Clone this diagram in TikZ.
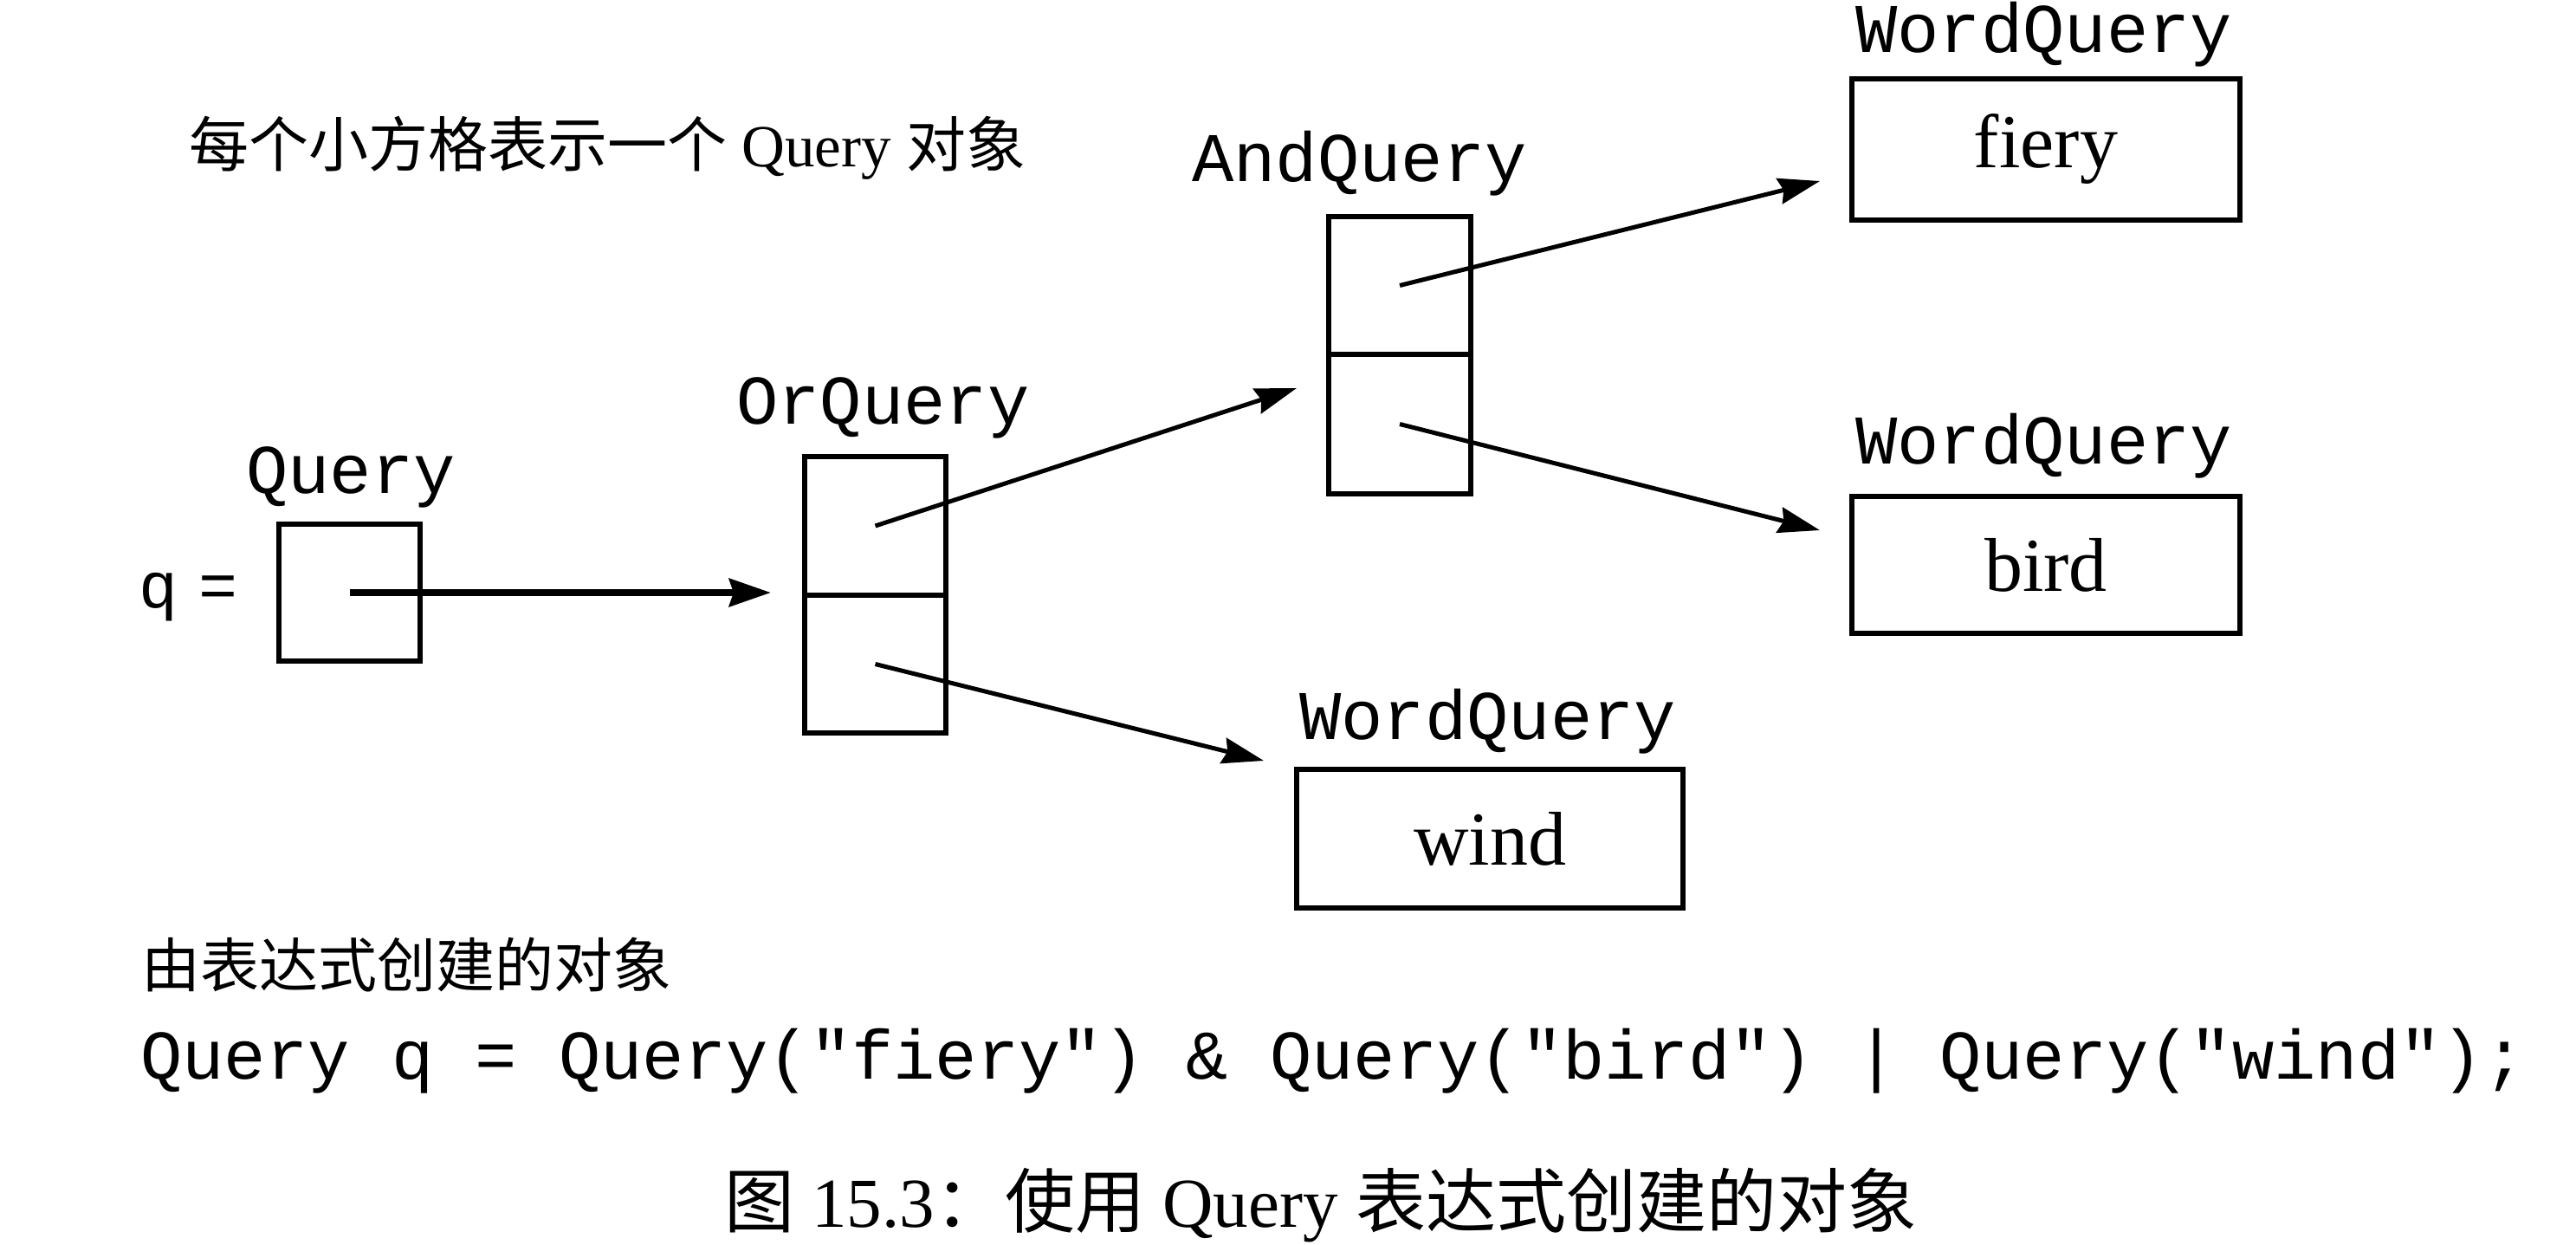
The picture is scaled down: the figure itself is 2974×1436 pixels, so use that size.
\documentclass[tikz,border=0pt]{standalone}
\usepackage{fontspec}
\setmainfont{Liberation Serif}
\setmonofont{Liberation Mono}
\newfontfamily\cjk{Noto Sans CJK SC}
\usetikzlibrary{arrows.meta}
\begin{document}
\begin{tikzpicture}[x=1pt,y=-1pt,
  cell/.style={draw, line width=6pt, minimum width=163pt, minimum height=160pt, inner sep=0pt},
  wordbox/.style={draw, line width=6pt, minimum width=448pt, minimum height=162pt, inner sep=0pt,
                  font=\fontsize{88pt}{96pt}\selectfont},
  lbl/.style={font=\ttfamily\fontsize{80.5pt}{90pt}\selectfont, inner sep=0pt, anchor=base west},
  ptr/.style={line width=5pt, -{Stealth[length=48pt,width=30pt,inset=5pt]}},
  thickptr/.style={line width=8pt, -{Stealth[length=48pt,width=32pt,inset=5pt]}},
  txt/.style={inner sep=0pt, anchor=base west}]
\useasboundingbox (0,0) rectangle (2974,1436);

% texts
\node[txt, font=\fontsize{69pt}{80pt}\selectfont] (title) at (218,192)
  {{\cjk 每个小方格表示一个} Query {\cjk 对象}};
\node[txt, font=\fontsize{68pt}{80pt}\selectfont] (sub) at (163,1139) {\cjk 由表达式创建的对象};
\node[lbl] (code) at (162,1245) {Query q = Query("fiery") \& Query("bird") | Query("wind");};
\node[txt, font=\fontsize{81pt}{90pt}\selectfont] (cap) at (836,1416)
  {{\cjk 图} 15.3{\cjk ：使用} Query {\cjk 表达式创建的对象}};

% labels
\node[lbl] (lq) at (284,569) {Query};
\node[lbl] (lor) at (850,489) {OrQuery};
\node[lbl] (land) at (1376,209) {AndQuery};
\node[lbl] (lw1) at (2142,60) {WordQuery};
\node[lbl] (lw2) at (2142,535) {WordQuery};
\node[lbl] (lw3) at (1500,853) {WordQuery};
\node[txt, font=\ttfamily\fontsize{75pt}{85pt}\selectfont] (qeq) at (160,701) {q\kern24pt=};

% boxes
\node[cell, minimum height=158pt] (qbox) at (403.5,684) {};
\node[cell] (or1) at (1010.5,607) {};
\node[cell, minimum height=159pt] (or2) at (1010.5,766.5) {};
\node[cell, minimum width=164pt, minimum height=159pt] (and1) at (1616,329.5) {};
\node[cell, minimum width=164pt, minimum height=161pt] (and2) at (1616,489.5) {};
\node[wordbox, minimum height=163pt] (fiery) at (2362,172.5) {fiery};
\node[wordbox, minimum height=158pt] (bird) at (2362,652) {bird};
\node[wordbox, minimum width=446pt, minimum height=160pt] (wind) at (1720,968) {wind};

% arrow end points
\coordinate (e0) at (890,684);
\coordinate (e1) at (1497,448);
\coordinate (e2) at (1459,878);
\coordinate (e3) at (2101,209);
\coordinate (e4) at (2101,612);

% arrows
\draw[thickptr] (qbox.center) -- (e0);
\draw[ptr] (or1.center) -- (e1);
\draw[ptr] (or2.center) -- (e2);
\draw[ptr] (and1.center) -- (e3);
\draw[ptr] (and2.center) -- (e4);
\end{tikzpicture}
\end{document}
